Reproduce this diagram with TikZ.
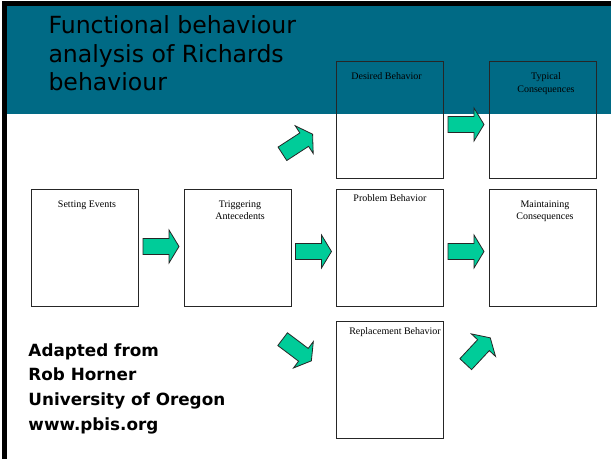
\documentclass[tikz,border=0pt]{standalone}
\usepackage{fontspec}
\setmainfont{Liberation Serif}
\setsansfont{DejaVu Sans}
\usetikzlibrary{calc}

\definecolor{bandteal}{RGB}{0,106,133}
\definecolor{arrowgreen}{RGB}{0,204,153}

\tikzset{every picture/.style={line width=0.75pt}}
\tikzset{
  box/.style={draw=black!85, line width=0.75pt, minimum width=80.25pt, minimum height=87.75pt, inner sep=0pt},
  boxlabel/.style={anchor=north, inner sep=0.75pt, align=center, font=\fontsize{7.5}{9.45}\selectfont},
  blockarrow/.pic={\draw[fill=arrowgreen, draw=black!85, line width=0.6pt] (-18,-8) -- (8,-8) -- (8,-16.5) -- (18,0) -- (8,16.5) -- (8,8) -- (-18,8) -- cycle;}
}

\begin{document}
\begin{tikzpicture}[x=0.75pt,y=0.75pt,yscale=-1,xscale=1]
\useasboundingbox (0,0) rectangle (611,459);

%Title band
\fill[bandteal] (6,6) rectangle (611,114);
%Frame
\draw[line width=3.75pt] (4,459) -- (4,4) -- (611,4);

% Title
\node[anchor=north west, inner sep=0pt, align=left, font=\sffamily\fontsize{17.7}{21.5}\selectfont] (title) at (48,15) {Functional behaviour\\analysis of Richards\\behaviour};

%Boxes
\node[box] (se) at (84.5,248) {};
\node[box] (ta) at (237.5,248) {};
\node[box] (pb) at (389.5,248) {};
\node[box] (mc) at (542.5,248) {};
\node[box] (db) at (389.5,120.5) {};
\node[box] (tc) at (542.5,120.5) {};
\node[box] (rb) at (389.5,380.5) {};

% Box labels
\node[boxlabel] (se-t) at ($(se.north)+(2.5,10)$) {Setting Events};
\node[boxlabel] (ta-t) at ($(ta.north)+(2.5,10)$) {Triggering\\Antecedents};
\node[boxlabel] (pb-t) at ($(pb.north)+(0.5,4.2)$) {Problem Behavior};
\node[boxlabel] (mc-t) at ($(mc.north)+(2.5,10)$) {Maintaining\\Consequences};
\node[boxlabel] (db-t) at ($(db.north)+(-3,9.5)$) {Desired Behavior};
\node[boxlabel] (tc-t) at ($(tc.north)+(3.5,10)$) {Typical\\Consequences};
\node[boxlabel] (rb-t) at ($(rb.north)+(5.5,4.2)$) {Replacement Behavior};

%Block arrows
\pic at ($(se.east)!.5!(ta.west)+(0,-1.5)$) {blockarrow};
\pic at ($(ta.east)!.5!(pb.west)+(0,3.5)$) {blockarrow};
\pic at ($(pb.east)!.5!(mc.west)+(0,3.5)$) {blockarrow};
\pic at ($(db.east)!.5!(tc.west)+(0,4)$) {blockarrow};
\pic[rotate=33] at (297.5,144) {blockarrow};
\pic[rotate=-37] at (297,350) {blockarrow};
\pic[rotate=47] at (478,351) {blockarrow};

% Credit
\node[anchor=north west, inner sep=0pt, align=left, font=\sffamily\bfseries\fontsize{12.6}{18.5}\selectfont] (credit) at (28,343) {Adapted from\\Rob Horner\\University of Oregon\\www.pbis.org};

\end{tikzpicture}
\end{document}
